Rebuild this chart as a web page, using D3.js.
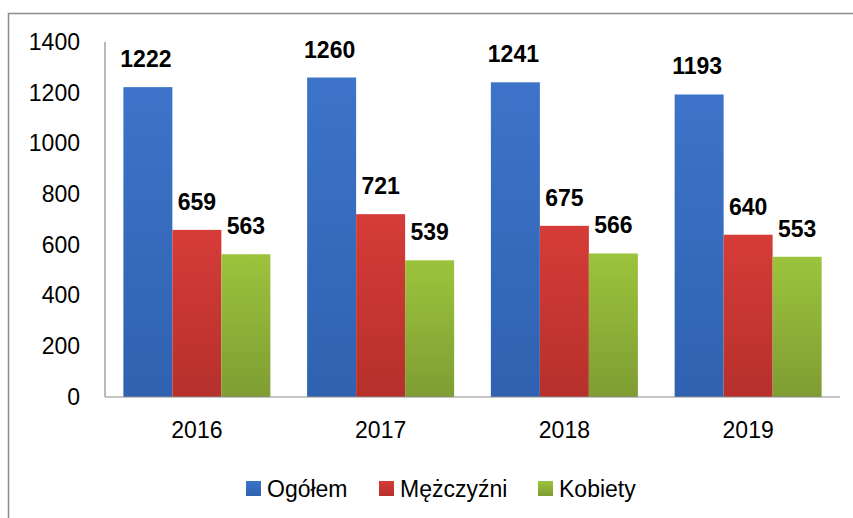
<!DOCTYPE html>
<html><head><meta charset="utf-8">
<script src="https://cdn.jsdelivr.net/npm/d3@7"></script>
<style>body{margin:0;background:#fff}svg{display:block}</style>
</head><body>
<svg id="c" width="853" height="518"></svg>
<script>
const categories = ["2016", "2017", "2018", "2019"];
const seriesNames = ["Ogółem", "Mężczyźni", "Kobiety"];
const ogolem = [1222, 1260, 1241, 1193];
const mezczyzni = [659, 721, 675, 640];
const kobiety = [563, 539, 566, 553];
const yTicks = [0, 200, 400, 600, 800, 1000, 1200, 1400];
const seriesValues = [ogolem, mezczyzni, kobiety];
const colorsTop = ["#3d74c9", "#d63c38", "#9cc33c"];
const colorsBot = ["#2f62b0", "#b6302b", "#7f9d33"];

const svg = d3.select("#c");
const font = "'Liberation Sans', Arial, sans-serif";
const m = {left: 105, right: 840, top: 42, bottom: 397};

// outer frame
svg.append("path").attr("d", "M8.5,518 L8.5,13.5 L853,13.5")
  .attr("fill", "none").attr("stroke", "#8c8c8c").attr("stroke-width", 1.5);

const defs = svg.append("defs");
seriesNames.forEach((s, i) => {
  const g = defs.append("linearGradient").attr("id", "g" + i)
    .attr("x1", 0).attr("y1", 0).attr("x2", 0).attr("y2", 1);
  g.append("stop").attr("offset", "0%").attr("stop-color", colorsTop[i]);
  g.append("stop").attr("offset", "100%").attr("stop-color", colorsBot[i]);
});

const x0 = d3.scaleBand().domain(categories).range([m.left, m.right]).paddingInner(0.2).paddingOuter(0.1);
const x1 = d3.scaleBand().domain(seriesNames).range([0, x0.bandwidth()]);
const y = d3.scaleLinear().domain([0, 1400]).range([m.bottom, m.top]);

// axes
svg.append("line").attr("x1", m.left).attr("x2", m.left).attr("y1", m.top).attr("y2", m.bottom)
  .attr("stroke", "#8c8c8c").attr("stroke-width", 1.2);

const yAxis = svg.append("g").attr("transform", `translate(${m.left - 25},0)`)
  .call(d3.axisLeft(y).tickValues(yTicks).tickFormat(d3.format("d")).tickSize(0).tickPadding(0));
yAxis.select(".domain").remove();
yAxis.selectAll("text").attr("font-family", font).attr("font-size", 23).attr("fill", "#000");

// bars
const groups = svg.append("g").selectAll("g").data(categories).join("g")
  .attr("transform", d => `translate(${x0(d)},0)`);
seriesNames.forEach((s, si) => {
  groups.append("rect")
    .attr("x", x1(s))
    .attr("width", x1.bandwidth())
    .attr("y", (d, ci) => y(seriesValues[si][ci]))
    .attr("height", (d, ci) => y(0) - y(seriesValues[si][ci]))
    .attr("fill", `url(#g${si})`);
});
seriesNames.forEach((s, si) => {
  groups.append("text")
    .attr("x", x1(s) + x1.bandwidth() / 2 + (si === 0 ? -2 : 0))
    .attr("y", (d, ci) => y(seriesValues[si][ci]) - 20)
    .attr("text-anchor", "middle")
    .attr("font-family", font).attr("font-weight", "bold").attr("font-size", 23)
    .text((d, ci) => seriesValues[si][ci]);
});

svg.append("line").attr("x1", m.left).attr("x2", m.right).attr("y1", m.bottom).attr("y2", m.bottom)
  .attr("stroke", "#8c8c8c").attr("stroke-width", 1.2);

const xAxis = svg.append("g").attr("transform", `translate(0,${m.bottom})`)
  .call(d3.axisBottom(x0).tickSize(0).tickPadding(25));
xAxis.select(".domain").remove();
xAxis.selectAll("text").attr("font-family", font).attr("font-size", 23).attr("fill", "#000");

// legend
const legendX = [246, 379, 538];
const lg = svg.append("g");
seriesNames.forEach((s, i) => {
  lg.append("rect").attr("x", legendX[i]).attr("y", 481).attr("width", 15).attr("height", 15)
    .attr("fill", `url(#g${i})`);
  lg.append("text").attr("x", legendX[i] + 21).attr("y", 497)
    .attr("font-family", font).attr("font-size", 23).text(s);
});
</script>
</body></html>
